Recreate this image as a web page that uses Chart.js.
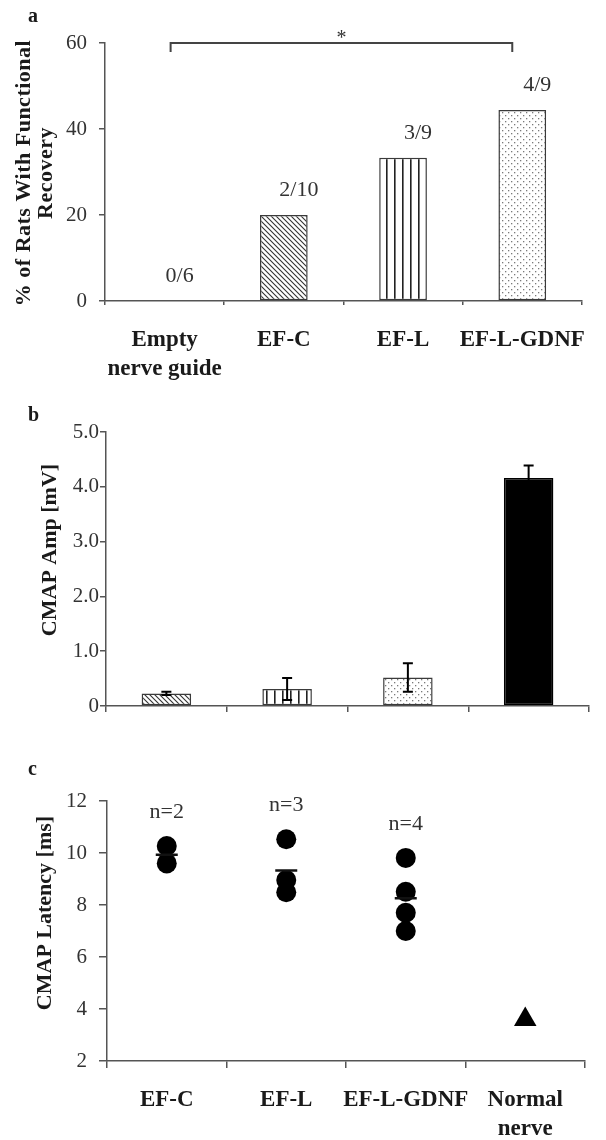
<!DOCTYPE html>
<html>
<head>
<meta charset="utf-8">
<script src="https://cdn.jsdelivr.net/npm/chart.js@4.4.0/dist/chart.umd.min.js"></script>
<style>
  html, body { margin: 0; padding: 0; background: #fff; }
  canvas { position: absolute; left: 0; }
  #panelA { top: 0; }
  #panelB { top: 390px; }
  #panelC { top: 730px; }
</style>
</head>
<body>
<canvas id="panelA" width="606" height="390"></canvas>
<canvas id="panelB" width="606" height="340"></canvas>
<canvas id="panelC" width="606" height="410"></canvas>
<script>
// panel a - functional recovery
const recoveryGroups = [['Empty', 'nerve guide'], 'EF-C', 'EF-L', 'EF-L-GDNF'];
const recoveryPct = [0, 20, 33.3, 44.4];
const recoveryCounts = ['0/6', '2/10', '3/9', '4/9'];

// panel b - CMAP amplitude
const ampGroups = ['EF-C', 'EF-L', 'EF-L-GDNF', 'Normal nerve'];
const ampMean = [0.23, 0.31, 0.52, 4.16];
const ampErr = [0.03, 0.2, 0.26, 0.23];

// panel c - CMAP latency
const latencyGroups = ['EF-C', 'EF-L', 'EF-L-GDNF', ['Normal', 'nerve']];
const efcLatency = [10.27, 9.6];
const eflLatency = [10.53, 8.96, 8.49];
const gdnfLatency = [9.81, 8.51, 7.7, 7.0];
const normalLatency = [3.6];
const latencyN = ['n=2', 'n=3', 'n=4'];

const SERIF = '"Liberation Serif", "Times New Roman", serif';
const AXIS = '#555';
const TEXT = '#333';

function tile(w, h, draw) {
    const c = document.createElement('canvas');
    c.width = w; c.height = h;
    const g = c.getContext('2d');
    g.fillStyle = '#fff';
    g.fillRect(0, 0, w, h);
    draw(g);
    return g.createPattern(c, 'repeat');
}

const hatch = tile(5, 5, g => {
    g.strokeStyle = '#333';
    g.lineWidth = 1.1;
    g.beginPath();
    g.moveTo(-1, -1); g.lineTo(6, 6);
    g.moveTo(-1, 4); g.lineTo(1, 6);
    g.moveTo(4, -1); g.lineTo(6, 1);
    g.stroke();
});
const vlines = tile(8, 8, g => {
    g.fillStyle = '#222';
    g.fillRect(2, 0, 1.6, 8);
});
const dots = tile(6, 6, g => {
    g.fillStyle = '#7a7a7a';
    g.fillRect(1, 1, 1.3, 1.3);
    g.fillRect(4, 4, 1.3, 1.3);
});

const sideTitle = {
    id: 'sideTitle',
    afterDraw(chart, args, opts) {
        const ctx = chart.ctx;
        ctx.save();
        ctx.fillStyle = '#1a1a1a';
        ctx.textAlign = 'center';
        ctx.textBaseline = 'middle';
        ctx.font = 'bold 22px ' + SERIF;
        ctx.letterSpacing = opts.spacing || '0px';
        opts.lines.forEach((line, i) => {
            ctx.save();
            ctx.translate(opts.x[i], opts.y);
            ctx.rotate(-Math.PI / 2);
            ctx.fillText(line, 0, 0);
            ctx.restore();
        });
        ctx.letterSpacing = '0px';
        ctx.textAlign = 'left';
        ctx.font = 'bold 20px ' + SERIF;
        ctx.fillText(opts.letter, 28, opts.letterY);
        ctx.restore();
    }
};

function yAxis(min, max, step, width, tickLen, pad, fmt) {
    return {
        min: min, max: max,
        afterFit: s => { s.width = width; },
        grid: { drawOnChartArea: false, drawTicks: true, tickLength: tickLen, color: AXIS, lineWidth: 1.5 },
        border: { color: AXIS, width: 1.5 },
        ticks: {
            stepSize: step, padding: pad, color: TEXT,
            font: { family: SERIF, size: 21 },
            callback: fmt || (v => v)
        }
    };
}

function xAxis(height, tickLen, pad, showLabels) {
    return {
        offset: true,
        afterFit: s => { s.height = height; },
        grid: { offset: true, drawOnChartArea: false, drawTicks: true, tickLength: tickLen, color: AXIS, lineWidth: 1.5 },
        border: { color: AXIS, width: 1.5 },
        ticks: {
            display: showLabels, padding: pad, color: '#1a1a1a', maxRotation: 0, autoSkip: false,
            font: { family: SERIF, size: 23, weight: 'bold', lineHeight: 1.25 }
        }
    };
}

// ---------- panel a ----------
const countLabels = {
    id: 'countLabels',
    afterDatasetsDraw(chart) {
        const { ctx, scales: { x, y } } = chart;
        ctx.save();
        ctx.font = '22px ' + SERIF;
        ctx.fillStyle = TEXT;
        ctx.textAlign = 'center';
        ctx.textBaseline = 'middle';
        recoveryPct.forEach((v, i) => {
            ctx.fillText(recoveryCounts[i], x.getPixelForValue(i) + 15, y.getPixelForValue(v) - 25);
        });
        // significance bracket
        const by = y.getPixelForValue(60);
        const x0 = x.getPixelForValue(0) + 6;
        const x1 = x.getPixelForValue(3) - 10;
        ctx.strokeStyle = '#444';
        ctx.lineWidth = 2;
        ctx.beginPath();
        ctx.moveTo(x0, by + 9); ctx.lineTo(x0, by); ctx.lineTo(x1, by); ctx.lineTo(x1, by + 9);
        ctx.stroke();
        ctx.font = '20px ' + SERIF;
        ctx.textBaseline = 'alphabetic';
        ctx.fillText('*', (x0 + x1) / 2, by + 1);
        ctx.restore();
    }
};

new Chart(document.getElementById('panelA'), {
    type: 'bar',
    data: {
        labels: recoveryGroups,
        datasets: [{
            data: recoveryPct,
            backgroundColor: ['#fff', hatch, vlines, dots],
            borderColor: '#3a3a3a',
            borderWidth: 1.5,
            borderSkipped: false,
            barPercentage: 0.4,
            categoryPercentage: 1
        }]
    },
    options: {
        responsive: false,
        animation: false,
        layout: { padding: { top: 43, right: 1, left: 0, bottom: 0 } },
        plugins: {
            legend: { display: false },
            tooltip: { enabled: false },
            sideTitle: {
                lines: ['% of Rats With Functional', 'Recovery'],
                x: [24, 46], y: 173, spacing: '0.5px',
                letter: 'a', letterY: 17
            }
        },
        scales: {
            x: xAxis(89, 4, 21, true),
            y: yAxis(0, 60, 20, 105, 6, 12)
        }
    },
    plugins: [countLabels, sideTitle]
});

// ---------- panel b ----------
const errorBars = {
    id: 'errorBars',
    afterDatasetsDraw(chart) {
        const { ctx, scales: { x, y } } = chart;
        ctx.save();
        ctx.strokeStyle = '#000';
        ctx.lineWidth = 2;
        ampMean.forEach((m, i) => {
            const px = x.getPixelForValue(i);
            const top = y.getPixelForValue(m + ampErr[i]);
            const bot = y.getPixelForValue(m - ampErr[i]);
            ctx.beginPath();
            ctx.moveTo(px, top); ctx.lineTo(px, bot);
            ctx.moveTo(px - 5, top); ctx.lineTo(px + 5, top);
            ctx.moveTo(px - 5, bot); ctx.lineTo(px + 5, bot);
            ctx.stroke();
        });
        ctx.restore();
    }
};

new Chart(document.getElementById('panelB'), {
    type: 'bar',
    data: {
        labels: ampGroups,
        datasets: [{
            data: ampMean,
            backgroundColor: [hatch, vlines, dots, '#000'],
            borderColor: ['#3a3a3a', '#3a3a3a', '#3a3a3a', '#000'],
            borderWidth: 1.5,
            borderSkipped: false,
            barPercentage: 0.41,
            categoryPercentage: 1
        }]
    },
    options: {
        responsive: false,
        animation: false,
        layout: { padding: { top: 42, right: 17, left: 0, bottom: 0 } },
        plugins: {
            legend: { display: false },
            tooltip: { enabled: false },
            sideTitle: {
                lines: ['CMAP Amp [mV]'],
                x: [50], y: 160,
                letter: 'b', letterY: 26
            }
        },
        scales: {
            x: xAxis(24, 6, 0, false),
            y: yAxis(0, 5, 1, 106, 6, 1, v => v === 0 ? '0' : v.toFixed(1))
        }
    },
    plugins: [errorBars, sideTitle]
});

// ---------- panel c ----------
const latencySets = [efcLatency, eflLatency, gdnfLatency];
const mean = arr => arr.reduce((a, b) => a + b, 0) / arr.length;
// x values are the label entries themselves, so the category scale finds them
const dotPoints = [];
latencySets.forEach((vals, i) => vals.forEach(v => dotPoints.push({ x: latencyGroups[i], y: v })));
const meanPoints = latencySets.map((vals, i) => ({ x: latencyGroups[i], y: mean(vals) }));
const normalPoints = normalLatency.map(v => ({ x: latencyGroups[3], y: v }));

const nLabels = {
    id: 'nLabels',
    afterDatasetsDraw(chart) {
        const { ctx, scales: { x, y } } = chart;
        ctx.save();
        ctx.font = '22px ' + SERIF;
        ctx.fillStyle = TEXT;
        ctx.textAlign = 'center';
        ctx.textBaseline = 'middle';
        latencySets.forEach((vals, i) => {
            ctx.fillText(latencyN[i], x.getPixelForValue(i), y.getPixelForValue(Math.max(...vals)) - 34);
        });
        ctx.restore();
    }
};

new Chart(document.getElementById('panelC'), {
    type: 'scatter',
    data: {
        labels: latencyGroups,
        datasets: [
            {
                data: meanPoints,
                pointStyle: 'line',
                radius: 11,
                borderColor: '#111',
                borderWidth: 2.5
            },
            {
                data: dotPoints,
                pointStyle: 'circle',
                radius: 10,
                backgroundColor: '#000',
                borderWidth: 0
            },
            {
                data: normalPoints,
                pointStyle: 'triangle',
                radius: 13,
                backgroundColor: '#000',
                borderWidth: 0
            }
        ]
    },
    options: {
        responsive: false,
        animation: false,
        layout: { padding: { top: 71, right: 21, left: 0, bottom: 0 } },
        plugins: {
            legend: { display: false },
            tooltip: { enabled: false },
            sideTitle: {
                lines: ['CMAP Latency [ms]'],
                x: [45], y: 183,
                letter: 'c', letterY: 40
            }
        },
        scales: {
            x: Object.assign(xAxis(79, 7, 18, true), { type: 'category' }),
            y: yAxis(2, 12, 2, 107, 8, 12)
        }
    },
    plugins: [nLabels, sideTitle]
});
</script>
</body>
</html>
